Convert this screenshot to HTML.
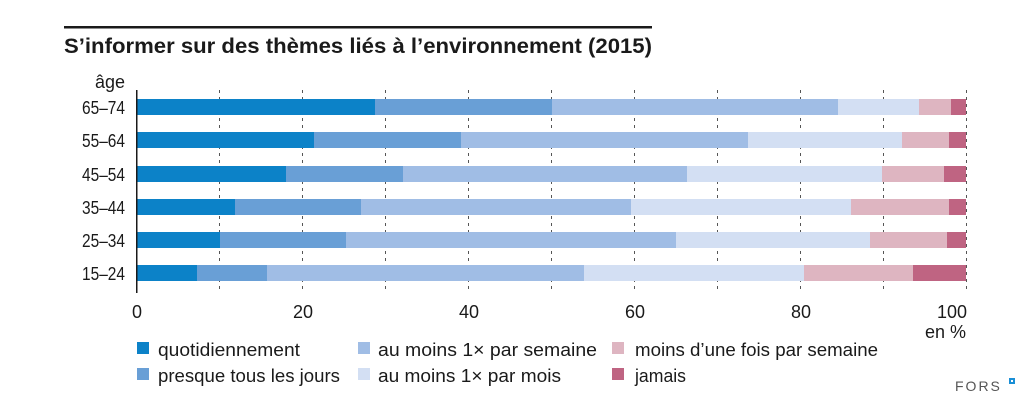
<!DOCTYPE html>
<html><head><meta charset="utf-8"><style>
html,body{margin:0;padding:0;background:#fff;}
svg{display:block;}
text{font-family:"Liberation Sans Narrow","Liberation Sans",sans-serif;fill:#1a1a1a;}
</style></head><body>
<svg width="1035" height="412" viewBox="0 0 1035 412" xmlns="http://www.w3.org/2000/svg">
<rect x="64" y="26" width="588" height="2.5" fill="#1a1a1a"/>
<text x="64" y="53" font-size="21" font-weight="bold" textLength="588" lengthAdjust="spacingAndGlyphs">S’informer sur des thèmes liés à l’environnement (2015)</text>
<text x="125" y="88" font-size="18" text-anchor="end" textLength="30" lengthAdjust="spacingAndGlyphs">âge</text>
<g stroke="#555" stroke-width="1" stroke-dasharray="3,4">
<line x1="219.5" y1="90" x2="219.5" y2="293"/><line x1="302.5" y1="90" x2="302.5" y2="293"/>
<line x1="385.5" y1="90" x2="385.5" y2="293"/><line x1="468.5" y1="90" x2="468.5" y2="293"/>
<line x1="551.5" y1="90" x2="551.5" y2="293"/><line x1="634.5" y1="90" x2="634.5" y2="293"/>
<line x1="717.5" y1="90" x2="717.5" y2="293"/><line x1="800.5" y1="90" x2="800.5" y2="293"/>
<line x1="883.5" y1="90" x2="883.5" y2="293"/><line x1="966.5" y1="90" x2="966.5" y2="293"/>
</g>
<g>
<rect x="137" y="99" width="238" height="16" fill="#0c82c8"/><rect x="375" y="99" width="177" height="16" fill="#699fd6"/><rect x="552" y="99" width="286" height="16" fill="#a0bde5"/><rect x="838" y="99" width="81" height="16" fill="#d3dff3"/><rect x="919" y="99" width="32" height="16" fill="#deb5c1"/><rect x="951" y="99" width="15" height="16" fill="#bf6482"/>
<rect x="137" y="132" width="177" height="16" fill="#0c82c8"/><rect x="314" y="132" width="147" height="16" fill="#699fd6"/><rect x="461" y="132" width="287" height="16" fill="#a0bde5"/><rect x="748" y="132" width="154" height="16" fill="#d3dff3"/><rect x="902" y="132" width="47" height="16" fill="#deb5c1"/><rect x="949" y="132" width="17" height="16" fill="#bf6482"/>
<rect x="137" y="166" width="149" height="16" fill="#0c82c8"/><rect x="286" y="166" width="117" height="16" fill="#699fd6"/><rect x="403" y="166" width="284" height="16" fill="#a0bde5"/><rect x="687" y="166" width="195" height="16" fill="#d3dff3"/><rect x="882" y="166" width="62" height="16" fill="#deb5c1"/><rect x="944" y="166" width="22" height="16" fill="#bf6482"/>
<rect x="137" y="199" width="98" height="16" fill="#0c82c8"/><rect x="235" y="199" width="126" height="16" fill="#699fd6"/><rect x="361" y="199" width="270" height="16" fill="#a0bde5"/><rect x="631" y="199" width="220" height="16" fill="#d3dff3"/><rect x="851" y="199" width="98" height="16" fill="#deb5c1"/><rect x="949" y="199" width="17" height="16" fill="#bf6482"/>
<rect x="137" y="232" width="83" height="16" fill="#0c82c8"/><rect x="220" y="232" width="126" height="16" fill="#699fd6"/><rect x="346" y="232" width="330" height="16" fill="#a0bde5"/><rect x="676" y="232" width="194" height="16" fill="#d3dff3"/><rect x="870" y="232" width="77" height="16" fill="#deb5c1"/><rect x="947" y="232" width="19" height="16" fill="#bf6482"/>
<rect x="137" y="265" width="60" height="16" fill="#0c82c8"/><rect x="197" y="265" width="70" height="16" fill="#699fd6"/><rect x="267" y="265" width="317" height="16" fill="#a0bde5"/><rect x="584" y="265" width="220" height="16" fill="#d3dff3"/><rect x="804" y="265" width="109" height="16" fill="#deb5c1"/><rect x="913" y="265" width="53" height="16" fill="#bf6482"/>
</g>
<g font-size="18" text-anchor="end">
<text x="125" y="114" textLength="43" lengthAdjust="spacingAndGlyphs">65–74</text>
<text x="125" y="147" textLength="43" lengthAdjust="spacingAndGlyphs">55–64</text>
<text x="125" y="181" textLength="43" lengthAdjust="spacingAndGlyphs">45–54</text>
<text x="125" y="214" textLength="43" lengthAdjust="spacingAndGlyphs">35–44</text>
<text x="125" y="247" textLength="43" lengthAdjust="spacingAndGlyphs">25–34</text>
<text x="125" y="280" textLength="43" lengthAdjust="spacingAndGlyphs">15–24</text>
</g>
<g font-size="18" text-anchor="middle">
<text x="137" y="318">0</text><text x="303" y="318">20</text><text x="469" y="318">40</text>
<text x="635" y="318">60</text><text x="801" y="318">80</text><text x="952" y="318">100</text>
</g>
<text x="966" y="338" font-size="18" text-anchor="end">en %</text>
<g font-size="18">
<rect x="137" y="342" width="12" height="12" fill="#0c82c8"/><text x="158" y="356" textLength="142" lengthAdjust="spacingAndGlyphs">quotidiennement</text>
<rect x="137" y="368" width="12" height="12" fill="#699fd6"/><text x="158" y="382" textLength="182" lengthAdjust="spacingAndGlyphs">presque tous les jours</text>
<rect x="358" y="342" width="12" height="12" fill="#a0bde5"/><text x="378" y="356" textLength="219" lengthAdjust="spacingAndGlyphs">au moins 1× par semaine</text>
<rect x="358" y="368" width="12" height="12" fill="#d3dff3"/><text x="378" y="382" textLength="183" lengthAdjust="spacingAndGlyphs">au moins 1× par mois</text>
<rect x="612" y="342" width="12" height="12" fill="#deb5c1"/><text x="635" y="356" textLength="243" lengthAdjust="spacingAndGlyphs">moins d’une fois par semaine</text>
<rect x="612" y="368" width="12" height="12" fill="#bf6482"/><text x="635" y="382" textLength="51" lengthAdjust="spacingAndGlyphs">jamais</text>
</g>
<text x="955" y="391" font-size="14" style="fill:#555" letter-spacing="2">FORS</text>
<rect x="1009" y="378" width="6" height="6" fill="#1a8fd6"/>
<rect x="1011" y="380" width="2" height="2" fill="#fff"/>
<rect x="136" y="90" width="1.5" height="203" fill="#1a1a1a"/>
</svg>
</body></html>
